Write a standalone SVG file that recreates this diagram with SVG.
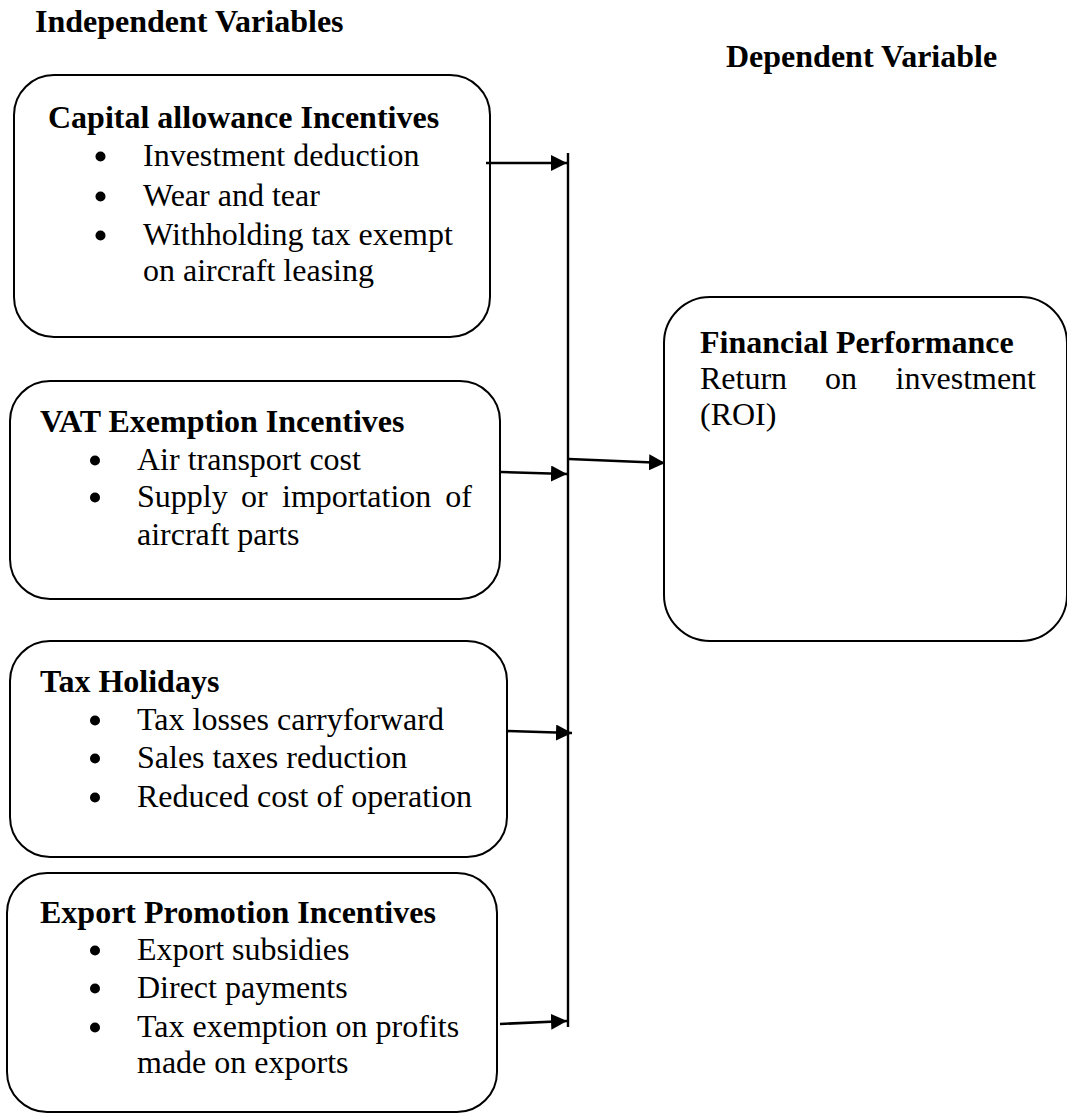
<svg xmlns="http://www.w3.org/2000/svg" width="1067" height="1114" viewBox="0 0 1067 1114">
<style>
text{font-family:"Liberation Serif","Times New Roman",serif;font-size:32px;fill:#000}
.b{font-weight:bold}
.dot{fill:#000}
.box{fill:#fff;stroke:#000;stroke-width:2}
.ln{fill:none;stroke:#000;stroke-width:2.6}
</style>
<defs>
<marker id="ah" markerUnits="userSpaceOnUse" markerWidth="16" markerHeight="16" refX="16" refY="8" orient="auto">
<path d="M0,0 L16,8 L0,16 z" fill="#000"/>
</marker>
</defs>
<rect width="1067" height="1114" fill="#fff"/>
<text class="b" x="35" y="32">Independent Variables</text>
<text class="b" x="726" y="67">Dependent Variable</text>

<g id="capital">
<rect class="box" x="14" y="75" width="476" height="262" rx="40" ry="40"/>
<text class="b" x="48" y="128">Capital allowance Incentives</text>
<circle class="dot" cx="100.5" cy="156.5" r="5"/><text x="143" y="166">Investment deduction</text>
<circle class="dot" cx="100.5" cy="196.5" r="5"/><text x="143" y="206">Wear and tear</text>
<circle class="dot" cx="100.5" cy="235.5" r="5"/><text x="143" y="245">Withholding tax exempt</text>
<text x="143" y="281">on aircraft leasing</text>
</g>

<g id="vat">
<rect class="box" x="10" y="381" width="490" height="218" rx="40" ry="40"/>
<text class="b" x="40" y="432">VAT Exemption Incentives</text>
<circle class="dot" cx="95" cy="460.5" r="5"/><text x="137" y="470">Air transport cost</text>
<circle class="dot" cx="95" cy="497.5" r="5"/><text x="137" y="507">Supply</text><text x="241" y="507">or</text><text x="282" y="507">importation</text><text x="472" y="507" text-anchor="end">of</text>
<text x="137" y="545">aircraft parts</text>
</g>

<g id="holidays">
<rect class="box" x="10" y="641" width="497" height="216" rx="40" ry="40"/>
<text class="b" x="40" y="692">Tax Holidays</text>
<circle class="dot" cx="95" cy="720.5" r="5"/><text x="137" y="730">Tax losses carryforward</text>
<circle class="dot" cx="95" cy="758.5" r="5"/><text x="137" y="768">Sales taxes reduction</text>
<circle class="dot" cx="95" cy="797.5" r="5"/><text x="137" y="807">Reduced cost of operation</text>
</g>

<g id="export">
<rect class="box" x="7" y="873" width="490" height="239" rx="40" ry="40"/>
<text class="b" x="40" y="923">Export Promotion Incentives</text>
<circle class="dot" cx="95" cy="950.5" r="5"/><text x="137" y="960">Export subsidies</text>
<circle class="dot" cx="95" cy="988.5" r="5"/><text x="137" y="998">Direct payments</text>
<circle class="dot" cx="95" cy="1027.5" r="5"/><text x="137" y="1037">Tax exemption on profits</text>
<text x="137" y="1073">made on exports</text>
</g>

<g id="performance">
<rect class="box" x="664" y="297" width="403" height="344" rx="46" ry="46"/>
<text class="b" x="700" y="353">Financial Performance</text>
<text x="700" y="389">Return</text><text x="825" y="389">on</text><text x="1036" y="389" text-anchor="end">investment</text>
<text x="700" y="425">(ROI)</text>
</g>

<g id="connectors">
<line class="ln" x1="568" y1="153" x2="568" y2="1027" style="stroke-width:2.4"/>
<line class="ln" x1="486" y1="163" x2="567" y2="163" marker-end="url(#ah)"/>
<line class="ln" x1="501" y1="472" x2="567" y2="474" marker-end="url(#ah)"/>
<line class="ln" x1="506" y1="731" x2="572" y2="733" marker-end="url(#ah)"/>
<line class="ln" x1="500" y1="1024" x2="567" y2="1021" marker-end="url(#ah)"/>
<line class="ln" x1="569" y1="459" x2="665" y2="463" marker-end="url(#ah)"/>
</g>
</svg>
